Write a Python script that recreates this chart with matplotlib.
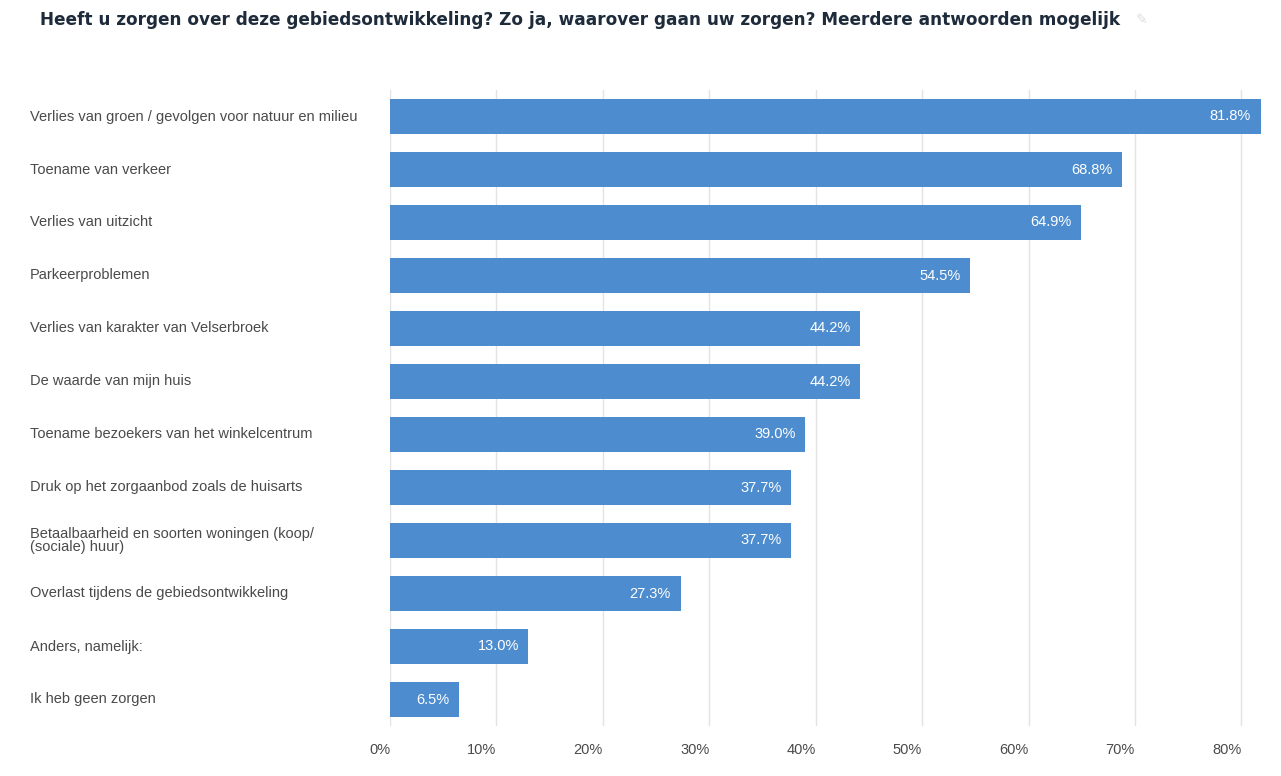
import matplotlib.pyplot as plt
from matplotlib.transforms import blended_transform_factory

categories = [
    "Verlies van groen / gevolgen voor natuur en milieu",
    "Toename van verkeer",
    "Verlies van uitzicht",
    "Parkeerproblemen",
    "Verlies van karakter van Velserbroek",
    "De waarde van mijn huis",
    "Toename bezoekers van het winkelcentrum",
    "Druk op het zorgaanbod zoals de huisarts",
    "Betaalbaarheid en soorten woningen (koop/\n(sociale) huur)",
    "Overlast tijdens de gebiedsontwikkeling",
    "Anders, namelijk:",
    "Ik heb geen zorgen",
]
percentages = [81.8, 68.8, 64.9, 54.5, 44.2, 44.2, 39.0, 37.7, 37.7, 27.3, 13.0, 6.5]
x_ticks = [0, 10, 20, 30, 40, 50, 60, 70, 80]

bar_color = "#4d8dcf"
label_color = "#4a4a4a"

fig = plt.figure(figsize=(12.81, 7.76), dpi=100)
ax = fig.add_axes([390 / 1281, 1 - 726 / 776, (1268 - 390) / 1281, (726 - 90) / 776])

ypos = list(range(len(categories)))
ax.barh(ypos, percentages, height=0.65, color=bar_color, zorder=2)

for y, v in zip(ypos, percentages):
    ax.text(v - 0.9, y, f"{v:.1f}%", ha="right", va="center",
            color="white", fontsize=10.5, family="Liberation Sans", zorder=3)

ax.set_xlim(0, 82.5)
ax.set_ylim(len(categories) - 0.5, -0.5)
ax.set_xticks(x_ticks)
ax.set_xticklabels([f"{t}%" for t in x_ticks], family="Liberation Sans",
                   fontsize=10.5, color=label_color, ha="right")
ax.tick_params(axis="x", length=0, pad=12)
ax.set_yticks([])
ax.grid(axis="x", color="#e3e3e3", linewidth=1, zorder=0)
for s in ax.spines.values():
    s.set_visible(False)

# category labels, left aligned in the figure margin
trans = blended_transform_factory(fig.transFigure, ax.transData)
for y, name in zip(ypos, categories):
    fig.text(30 / 1281, y, name, transform=trans, ha="left", va="center",
             fontsize=10.5, color=label_color, family="Liberation Sans",
             linespacing=0.95)

fig.text(40 / 1281, 1 - 20 / 776,
         "Heeft u zorgen over deze gebiedsontwikkeling? Zo ja, waarover gaan uw zorgen? Meerdere antwoorden mogelijk",
         ha="left", va="center", fontsize=12.2, fontweight="heavy",
         color="#1e2b3a", family="DejaVu Sans")
fig.text(1136 / 1281, 1 - 20 / 776, "\u270e", ha="left", va="center",
         fontsize=10, color="#dddddd", family="DejaVu Sans")

fig.savefig("out.png", dpi=100, facecolor="white")
